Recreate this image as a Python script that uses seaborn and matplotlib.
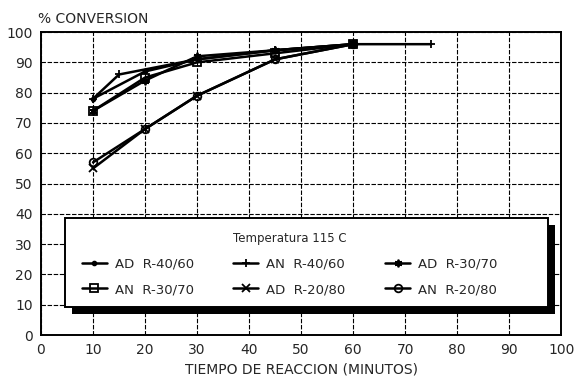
import pandas as pd
import matplotlib
matplotlib.use('Agg')
import matplotlib.pyplot as plt
import matplotlib.patches as mpatches
import seaborn as sns

# datos (tiempo en minutos, % conversion)
ad_40_t = [10, 20, 30, 45, 60]
ad_40_c = [78, 87, 91, 94, 96]
an_40_t = [10, 15, 30, 45, 60, 75]
an_40_c = [78, 86, 91, 94, 96, 96]
ad_30_t = [10, 20, 30, 45, 60]
ad_30_c = [74, 84, 92, 94, 96]
an_30_t = [10, 20, 30, 45, 60]
an_30_c = [74, 85, 90, 93, 96]
ad_20_t = [10, 20, 30, 45, 60]
ad_20_c = [55, 68, 79, 91, 96]
an_20_t = [10, 20, 30, 45, 60]
an_20_c = [57, 68, 79, 91, 96]

series = [
    ('AD  R-40/60', ad_40_t, ad_40_c, '.', 'full'),
    ('AN  R-40/60', an_40_t, an_40_c, '+', 'full'),
    ('AD  R-30/70', ad_30_t, ad_30_c, (6, 2, 0), 'full'),
    ('AN  R-30/70', an_30_t, an_30_c, 's', 'none'),
    ('AD  R-20/80', ad_20_t, ad_20_c, 'x', 'full'),
    ('AN  R-20/80', an_20_t, an_20_c, 'o', 'none'),
]

sns.set_style('white')
plt.rcParams['font.family'] = ['DejaVu Sans']

fig = plt.figure(figsize=(5.88, 3.91), dpi=100)
ax = fig.add_axes([0.0697, 0.143, 0.885, 0.775])

for name, t, c, mk, fs in series:
    df = pd.DataFrame({'t': t, 'c': c})
    sns.lineplot(data=df, x='t', y='c', ax=ax, color='black', linewidth=1.8,
                 marker=mk, markersize=5.5, fillstyle=fs, markeredgewidth=1.3,
                 markeredgecolor='black', label=name)

ax.set_xlim(0, 100)
ax.set_ylim(0, 100)
ax.set_xticks(range(0, 101, 10))
ax.set_yticks(range(0, 101, 10))
ax.grid(True, color='black', linestyle=(0, (4, 1.5)), linewidth=0.8)
for s in ax.spines.values():
    s.set_color('black')
    s.set_linewidth(1.4)
ax.tick_params(labelsize=10, length=0, pad=6)
ax.set_xlabel('TIEMPO DE REACCION (MINUTOS)', fontsize=10)
ax.set_ylabel('')
fig.text(0.064, 0.94, '% CONVERSION', fontsize=10)

# caja de la leyenda con sombra gruesa (abajo y a la derecha)
caja_x, caja_y, caja_w, caja_h = 0.046, 0.092, 0.929, 0.294
sombra = mpatches.Rectangle((caja_x + 0.0135, caja_y - 0.023), caja_w, caja_h,
                            transform=ax.transAxes, facecolor='black',
                            edgecolor='none', zorder=3.9)
caja = mpatches.Rectangle((caja_x, caja_y), caja_w, caja_h, transform=ax.transAxes,
                          facecolor='white', edgecolor='black', linewidth=1.4,
                          zorder=4)
ax.add_patch(sombra)
ax.add_patch(caja)

# reordenar para llenar por filas en 3 columnas
h, l = ax.get_legend_handles_labels()
order = [0, 3, 1, 4, 2, 5]
leg = ax.legend([h[i] for i in order], [l[i] for i in order], ncol=3,
                title='Temperatura 115 C', title_fontsize=8.5, fontsize=9.5,
                loc='upper left', bbox_to_anchor=(0.058, 0.375),
                frameon=False, borderpad=0.3, handlelength=1.9,
                handletextpad=0.6, columnspacing=3.0, labelspacing=0.95)
leg.set_zorder(5)

plt.savefig('out.png', dpi=100)
